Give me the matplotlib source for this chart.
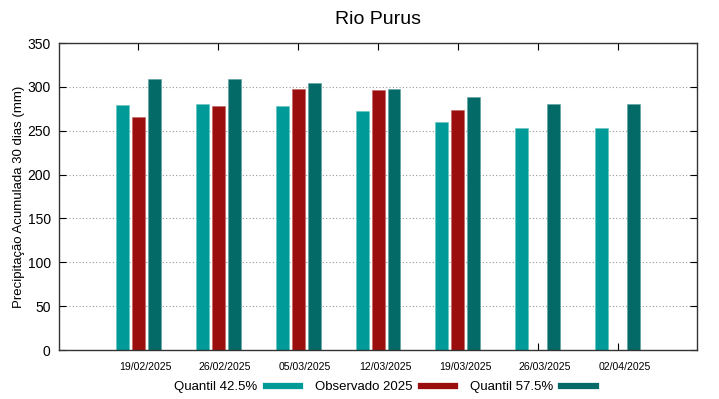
import numpy as np
import matplotlib.pyplot as plt
import matplotlib.transforms as mtransforms
from matplotlib.lines import Line2D

plt.rcParams['font.family'] = ['Liberation Sans', 'DejaVu Sans']

datas = ["19/02/2025", "26/02/2025", "05/03/2025", "12/03/2025",
         "19/03/2025", "26/03/2025", "02/04/2025"]
q425 = [279, 281, 278, 273, 260, 253, 253]
obs = [266, 278, 297, 296, 274, np.nan, np.nan]
q575 = [309, 309, 304, 297, 288, 280, 280]

cor_q425 = "#009a98"
cor_obs = "#9a0e0e"
cor_q575 = "#046a67"

fig = plt.figure(figsize=(7.19, 3.99), dpi=100)
ax = fig.add_axes([0.0821, 0.1228, 0.9694 - 0.0821, 0.8922 - 0.1228])

x = np.arange(len(datas))
w = 0.1625
d = 0.2
ax.bar(x - d, q425, w, color=cor_q425, edgecolor="#5fc4c2", linewidth=0.4)
ax.bar(x, obs, w, color=cor_obs, edgecolor="#c46060", linewidth=0.4)
ax.bar(x + d, q575, w, color=cor_q575, edgecolor="#5aa09d", linewidth=0.4)

ax.set_xlim(-0.99, len(datas) - 0.01)
ax.set_ylim(0, 350)
ax.set_yticks(np.arange(0, 351, 50))
ax.set_xticks(x)
ax.set_xticklabels([])
# rotulos das datas levemente deslocados para a direita (como no gnuplot)
off = mtransforms.ScaledTranslation(7 / 100, -17 / 100, fig.dpi_scale_trans)
trans = ax.get_xaxis_transform() + off
for xi, lab in zip(x, datas):
    ax.text(xi, 0, lab, transform=trans, ha="center", va="center", fontsize=7.6)
ax.tick_params(axis="y", labelsize=10, direction="in", length=5, right=True, pad=6)
ax.tick_params(axis="x", direction="in", length=5, top=True)
ax.set_axisbelow(True)
ax.yaxis.grid(True, linestyle=(0, (1, 2)), color="#999999", linewidth=0.8)
for s in ax.spines.values():
    s.set_linewidth(1.0)
    s.set_color("#333333")

ax.set_ylabel("Precipitação Acumulada 30 dias (mm)", fontsize=9.5, labelpad=1.5)
ax.set_title("Rio Purus", fontsize=14, pad=14)

handles = [Line2D([], [], color=cor_q425, lw=4.5),
           Line2D([], [], color=cor_obs, lw=4.5),
           Line2D([], [], color=cor_q575, lw=4.5)]
fig.legend(handles, ["Quantil 42.5%", "Observado 2025", "Quantil 57.5%"],
           loc="center", bbox_to_anchor=(385 / 719, 1 - 387 / 399), ncol=3,
           frameon=False, markerfirst=False, handlelength=2.6,
           columnspacing=1.15, handletextpad=0.6, fontsize=9.5)

fig.savefig("out.png", dpi=100)
